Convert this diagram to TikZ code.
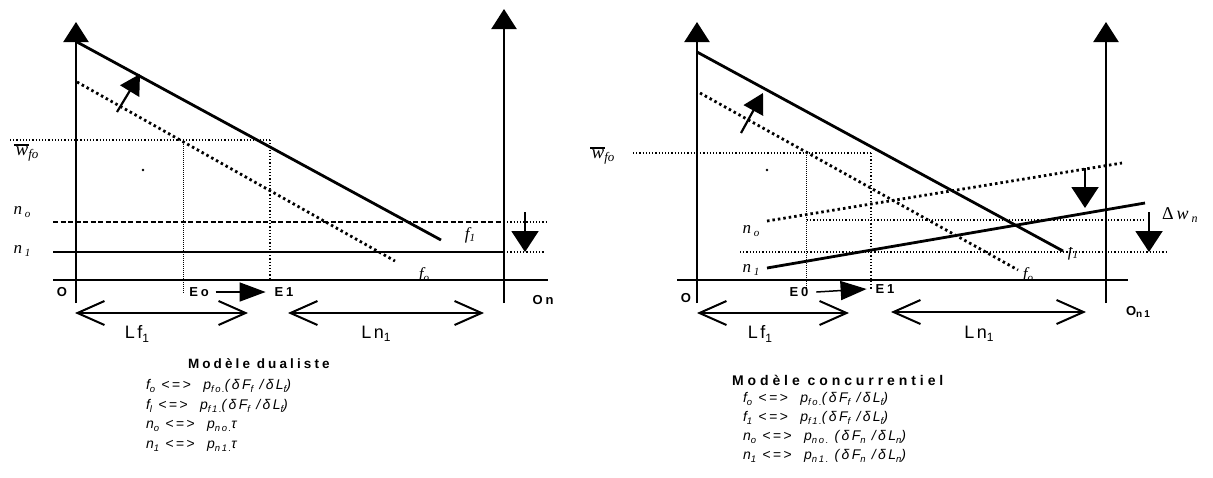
\documentclass[tikz,border=0pt]{standalone}
\usepackage{fontspec}
\setmainfont{Liberation Serif}
\setsansfont{Liberation Sans}
\newfontfamily\ttlfont[LetterSpace=23]{Liberation Sans}
\newfontfamily\labfont[LetterSpace=22]{Liberation Sans}
\newfontfamily\spanfont[LetterSpace=14]{Liberation Sans}
\newfontfamily\fmlfont[LetterSpace=17]{Liberation Sans}
\usetikzlibrary{arrows.meta}
\newcommand\lo[2][9.5]{\raisebox{-0.35ex}{\fontsize{#1}{#1}\selectfont #2}}
\newcommand\ovl[1]{\setbox0\hbox{#1}\rlap{\hspace{-1.5pt}\rule[\dimexpr\ht0+1.5pt\relax]{\dimexpr\wd0+2pt\relax}{1.3pt}}\box0}
\newcommand\fml{\fmlfont\itshape\fontsize{14}{14}\selectfont}
\newcommand\serlab{\itshape\fontsize{17}{17}\selectfont}
\newcommand\boldlab{\labfont\bfseries\fontsize{13}{13}\selectfont}
\newcommand\spanlab{\spanfont\fontsize{18}{18}\selectfont}
\tikzset{
  axis/.style={line width=2.2pt,-{Triangle[length=20pt,width=25pt]}},
  baseax/.style={line width=2.2pt},
  thickline/.style={line width=2.8pt},
  dotline/.style={line width=2.8pt,dash pattern=on 2.5pt off 3pt},
  dashline/.style={line width=2.8pt,dash pattern=on 5pt off 2.5pt},
  guide/.style={line width=1.2pt,dash pattern=on 1.2pt off 2pt},
  guidefine/.style={line width=0.7pt,dash pattern=on 0.7pt off 1.3pt},
  downarrow/.style={line width=2pt,-{Triangle[length=21pt,width=27pt]}},
  shiftarrow/.style={line width=2.2pt,-{Triangle[length=20pt,width=22pt]}},
  ptr/.style={line width=1.5pt,-{Triangle[length=26pt,width=19pt]}},
  spanarrow/.style={line width=2pt,{Straight Barb[length=27pt,width=24pt]}-{Straight Barb[length=27pt,width=24pt]}},
  lab/.style={inner sep=0pt,outer sep=0pt},
  txt/.style={inner sep=0pt,outer sep=0pt,anchor=west},
}
\begin{document}
\begin{tikzpicture}[x=1pt,y=-1pt]
\useasboundingbox (0,0) rectangle (1213,477);
% ================= LEFT: Modele dualiste =================
\coordinate (LaB) at (76,303); \coordinate (LaT) at (76,22);
\coordinate (LbB) at (504,303); \coordinate (LbT) at (504,9);
\coordinate (LhL) at (53,280); \coordinate (LhR) at (548,280);
\draw[axis] (LaB) -- (LaT);
\draw[axis] (LbB) -- (LbT);
\coordinate (Lf1a) at (77,42); \coordinate (Lf1b) at (441,240);
\coordinate (Lf0a) at (77,82); \coordinate (Lf0b) at (395,261);
\draw[thickline] (Lf1a) -- (Lf1b);
\draw[dotline] (Lf0a) -- (Lf0b);
\coordinate (Lwa) at (10,140); \coordinate (Lwb) at (270,140);
\draw[guide] (Lwa) -- (Lwb);
\coordinate (LvEa) at (183,140); \coordinate (LvEb) at (183,293);
\draw[guidefine] (LvEa) -- (LvEb);
\coordinate (LvFb) at (270,280);
\draw[guide] (Lwb) -- (LvFb);
\fill (143,170) circle (1.3pt);
\coordinate (Lnoa) at (53,222); \coordinate (Lnob) at (504,222); \coordinate (Lnoc) at (548,222);
\draw[dashline] (Lnoa) -- (Lnob);
\draw[guide] (Lnob) -- (Lnoc);
\coordinate (Ln1a) at (53,252); \coordinate (Ln1b) at (504,252); \coordinate (Ln1c) at (545,252);
\draw[thickline] (Ln1a) -- (Ln1b);
\draw[guide] (Ln1b) -- (Ln1c);
\coordinate (Ldna) at (525,212); \coordinate (Ldnb) at (525,252);
\draw[downarrow] (Ldna) -- (Ldnb);
\coordinate (Lsha) at (117,112); \coordinate (Lshb) at (140,74);
\draw[shiftarrow] (Lsha) -- (Lshb);
% labels
\node[lab] (Lwlab) at (27,153) {\fontsize{19}{19}\selectfont\itshape\ovl{w}\lo[13]{fo}};
\node[lab] (Lnolab) at (22,212) {\serlab n\,\lo[11]{o}};
\node[lab] (Ln1lab) at (22,251) {\serlab n\,\lo[11]{1}};
\node[lab] (Lf1lab) at (470,235) {\serlab f\lo[11]{1}};
\begin{scope}
\clip (400,255) rectangle (450,279);
\node[lab] (Lf0lab) at (424,275) {\serlab f\lo[11]{o}};
\end{scope}
\draw[baseax] (LhL) -- (LhR);
\node[lab] (LO) at (62,292) {\boldlab O};
\node[lab] (LEo) at (199,292) {\boldlab Eo};
\node[lab] (LE1) at (284,292) {\boldlab E1};
\draw[ptr] (LEo.east) ++(7,0) coordinate (LpA) -- ([xshift=-9pt]LE1.west);
\node[lab] (LOn) at (543,300) {\boldlab On};
\coordinate (Lsp1a) at (75,313); \coordinate (Lsp1b) at (248,313);
\draw[spanarrow] (Lsp1a) -- (Lsp1b);
\node[lab] (LLf) at (137,334) {\spanlab Lf\lo[12]{1}};
\coordinate (Lsp2a) at (288,313); \coordinate (Lsp2b) at (484,313);
\draw[spanarrow] (Lsp2a) -- (Lsp2b);
\node[lab] (LLn) at (376,334) {\spanlab Ln\lo[12]{1}};
% text block
\node[txt] (Ltitle) at (188,364) {\ttlfont\bfseries\fontsize{13.5}{13.5}\selectfont Modèle dualiste};
\node[txt] (Lr1) at (146,386) {\fml f\lo{o} <=>~~p\lo{fo.}(δF\lo{f} /δL\lo{f})};
\node[txt] (Lr2) at (146,406) {\fml f\lo{l} <=>~~p\lo{f1.}(δF\lo{f} /δL\lo{f})};
\node[txt] (Lr3) at (146,426) {\fml n\lo{o} <=>~~p\lo{no.}τ};
\node[txt] (Lr4) at (146,446) {\fml n\lo{1} <=>~~p\lo{n1.}τ};
% ================= RIGHT: Modele concurrentiel =================
\coordinate (RaB) at (697,303); \coordinate (RaT) at (697,22);
\coordinate (RbB) at (1106,303); \coordinate (RbT) at (1106,22);
\coordinate (RhL) at (677,280); \coordinate (RhR) at (1128,280);
\draw[axis] (RaB) -- (RaT);
\draw[axis] (RbB) -- (RbT);
\coordinate (Rf1a) at (697,52); \coordinate (Rf1b) at (1063,251);
\coordinate (Rf0a) at (700,93); \coordinate (Rf0b) at (1018,270);
\draw[thickline] (Rf1a) -- (Rf1b);
\draw[dotline] (Rf0a) -- (Rf0b);
\coordinate (Rsha) at (741,133); \coordinate (Rshb) at (763,93);
\draw[shiftarrow] (Rsha) -- (Rshb);
\coordinate (Rwa) at (633,153); \coordinate (Rwb) at (871,153);
\draw[guide] (Rwa) -- (Rwb);
\coordinate (RvEa) at (806,153); \coordinate (RvEb) at (806,292);
\draw[guidefine] (RvEa) -- (RvEb);
\coordinate (RvFb) at (871,290);
\draw[guide] (Rwb) -- (RvFb);
\fill (767,170) circle (1.3pt);
\coordinate (Rnoa) at (767,221); \coordinate (Rnob) at (1122,163);
\draw[dotline] (Rnoa) -- (Rnob);
\coordinate (Rn1a) at (767,268); \coordinate (Rn1b) at (1145,203);
\draw[thickline] (Rn1a) -- (Rn1b);
\coordinate (Rg1a) at (807,220); \coordinate (Rg1b) at (1145,220);
\draw[guide] (Rg1a) -- (Rg1b);
\coordinate (Rg2a) at (740,252); \coordinate (Rg2b) at (1167,252);
\draw[guide] (Rg2a) -- (Rg2b);
\coordinate (Rd1a) at (1085,168); \coordinate (Rd1b) at (1085,208);
\draw[downarrow] (Rd1a) -- (Rd1b);
\coordinate (Rd2a) at (1149,212); \coordinate (Rd2b) at (1149,252);
\draw[downarrow] (Rd2a) -- (Rd2b);
% labels
\node[lab] (Rwlab) at (603,156) {\fontsize{19}{19}\selectfont\itshape\ovl{w}\lo[13]{fo}};
\node[lab] (Rnolab) at (751,231) {\serlab n\,\lo[11]{o}};
\node[lab] (Rn1lab) at (751,270) {\serlab n\,\lo[11]{1}};
\begin{scope}
\clip (1155,190) rectangle (1213,240);
\node[lab,anchor=west] (Rdw) at (1162,215) {\fontsize{18}{18}\selectfont Δ\,\textit{w}\,\lo[12]{\textit{n}}};
\end{scope}
\begin{scope}
\clip (1060,247) rectangle (1090,265);
\node[lab] (Rf1lab) at (1073,252) {\serlab f\lo[11]{1}};
\end{scope}
\begin{scope}
\clip (1010,255) rectangle (1050,279);
\node[lab] (Rf0lab) at (1028,275) {\serlab f\lo[11]{o}};
\end{scope}
\draw[baseax] (RhL) -- (RhR);
\node[lab] (RO) at (686,298) {\boldlab O};
\node[lab] (RE0) at (799,292) {\boldlab E0};
\node[lab] (RE1) at (885,289) {\boldlab E1};
\draw[ptr] (RE0.east) ++(8,0) coordinate (RpA) -- ([xshift=-9pt]RE1.west);
\node[lab] (ROn) at (1138,312) {\boldlab O\lo[10]{n1}};
\coordinate (Rsp1a) at (697,313); \coordinate (Rsp1b) at (849,313);
\draw[spanarrow] (Rsp1a) -- (Rsp1b);
\node[lab] (RLf) at (760,334) {\spanlab Lf\lo[12]{1}};
\coordinate (Rsp2a) at (891,312); \coordinate (Rsp2b) at (1086,312);
\draw[spanarrow] (Rsp2a) -- (Rsp2b);
\node[lab] (RLn) at (979,334) {\spanlab Ln\lo[12]{1}};
% text block
\node[txt] (Rtitle) at (732,380) {\ttlfont\bfseries\addfontfeature{LetterSpace=28}\fontsize{14}{14}\selectfont Modèle concurrentiel};
\node[txt] (Rr1) at (743,399) {\fml f\lo{o} <=>~~p\lo{fo.}(δF\lo{f} /δL\lo{f})};
\node[txt] (Rr2) at (743,418) {\fml f\lo{1} <=>~~p\lo{f1.}(δF\lo{f} /δL\lo{f})};
\node[txt] (Rr3) at (743,437) {\fml n\lo{o} <=>~~p\lo{no.} (δF\lo{n} /δL\lo{n})};
\node[txt] (Rr4) at (743,456) {\fml n\lo{1} <=>~~p\lo{n1.} (δF\lo{n} /δL\lo{n})};
\end{tikzpicture}
\end{document}
